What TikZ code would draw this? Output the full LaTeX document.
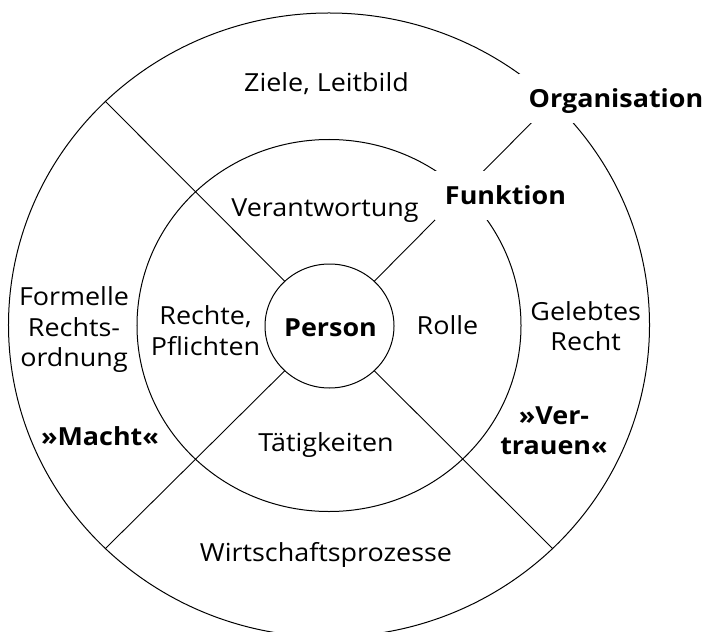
\documentclass[tikz,border=0pt]{standalone}
\usepackage{fontspec}
\setmainfont{Open Sans}[FakeStretch=1.08]
\usetikzlibrary{shapes.geometric}
\begin{document}
\begin{tikzpicture}[x=1bp,y=-1bp,
  ring/.style={ellipse, draw, line width=1bp, inner sep=0pt, outer sep=0pt},
  spoke/.style={line width=0.9bp},
  lbl/.style={font=\fontsize{25}{30.5}\selectfont, align=center, anchor=base, inner sep=0pt},
  blbl/.style={lbl, font=\fontsize{25}{30.5}\selectfont\bfseries},
  mask/.style={blbl, fill=white, text height=17.8bp, text depth=0pt, inner xsep=9.5bp, inner ysep=15.5bp}
]
\useasboundingbox (0,0) rectangle (706,632);
\node[ring, minimum width=641bp, minimum height=624bp] (outer) at (329,325) {};
\node[ring, minimum width=384bp, minimum height=372bp] (middle) at (329,325.5) {};
\node[ring, minimum width=129bp, minimum height=124bp] (inner) at (329.5,326) {};
\draw[spoke] (inner.135) -- (outer.135);
\draw[spoke] (inner.45) -- (outer.45);
\draw[spoke] (inner.225) -- (outer.225);
\draw[spoke] (inner.315) -- (outer.315);
\node[lbl] (ziele) at (326.5,91.7) {Ziele, Leitbild};
\node[mask] (org) at (616,107.7) {Organisation};
\node[mask] (funk) at (505.5,204.5) {Funktion};
\node[lbl] (verant) at (325,216.7) {Verantwortung};
\node[lbl] (formelle) at (74,366.5) {Formelle\\Rechts-\\ordnung};
\node[lbl] (rechte) at (205.5,355) {Rechte,\\Pflichten};
\node[blbl] (person) at (330.5,336.7) {Person};
\node[lbl] (rolle) at (447.5,334) {Rolle};
\node[lbl] (gelebt) at (585.7,350.5) {Gelebtes\\Recht};
\node[blbl] (macht) at (100,445.5) {»Macht«};
\node[blbl] (vertrauen) at (554,454.5) {»Ver-\\trauen«};
\node[lbl] (taetig) at (326,451.7) {Tätigkeiten};
\node[lbl] (wirt) at (326,561.7) {Wirtschaftsprozesse};
\end{tikzpicture}
\end{document}
